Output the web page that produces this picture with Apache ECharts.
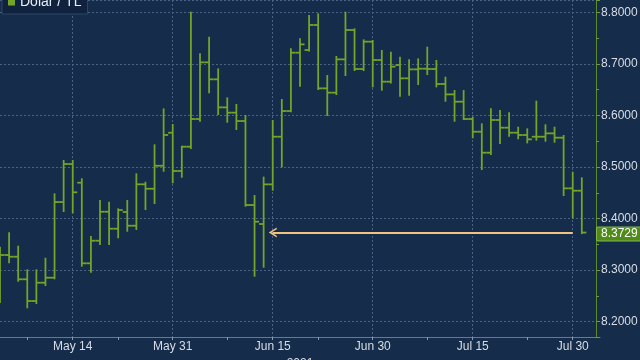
<!DOCTYPE html>
<html>
<head>
<meta charset="utf-8">
<script src="https://cdn.jsdelivr.net/npm/echarts@6/dist/echarts.min.js"></script>
<style>
html,body{margin:0;padding:0;background:#152c4b;}
#chart{width:640px;height:360px;}
</style>
</head>
<body>
<div id="chart"></div>
<script>
// Trading days (weekdays) shown on the category axis
const dates = [
 '2021-05-04','2021-05-05','2021-05-06','2021-05-07',
 '2021-05-10','2021-05-11','2021-05-12','2021-05-13','2021-05-14',
 '2021-05-17','2021-05-18','2021-05-19','2021-05-20','2021-05-21',
 '2021-05-24','2021-05-25','2021-05-26','2021-05-27','2021-05-28',
 '2021-05-31','2021-06-01','2021-06-02','2021-06-03','2021-06-04',
 '2021-06-07','2021-06-08','2021-06-09','2021-06-10','2021-06-11',
 '2021-06-14','2021-06-15','2021-06-16','2021-06-17','2021-06-18',
 '2021-06-21','2021-06-22','2021-06-23','2021-06-24','2021-06-25',
 '2021-06-28','2021-06-29','2021-06-30','2021-07-01','2021-07-02',
 '2021-07-05','2021-07-06','2021-07-07','2021-07-08','2021-07-09',
 '2021-07-12','2021-07-13','2021-07-14','2021-07-15','2021-07-16',
 '2021-07-19','2021-07-20','2021-07-21','2021-07-22','2021-07-23',
 '2021-07-26','2021-07-27','2021-07-28','2021-07-29','2021-07-30',
 '2021-08-02','2021-08-03','2021-08-04'
];
const open = [8.3350,8.3294,8.3261,8.2823,8.2402,8.2757,8.2854,8.4321,8.5058,8.4696,
 8.3133,8.3571,8.4133,8.3804,8.4128,8.3862,8.4665,8.4579,8.5025,8.5665,
 8.4923,8.5394,8.5931,8.7030,8.6701,8.6157,8.6054,8.5892,8.4263,8.3895,
 8.4664,8.5588,8.6086,8.7217,8.7269,8.7754,8.6526,8.6442,8.7088,8.7657,
 8.6901,8.7431,8.7075,8.6655,8.6978,8.6720,8.6894,8.6907,8.6901,8.6610,
 8.6409,8.6267,8.5931,8.5685,8.5278,8.5912,8.5763,8.5666,8.5621,8.5588,
 8.5588,8.5653,8.5569,8.4587,8.4541];
const high = [8.3455,8.3734,8.3474,8.3016,8.3016,8.3241,8.4490,8.5136,8.5136,8.4781,
 8.3662,8.4360,8.4327,8.4199,8.4360,8.4878,8.4715,8.5440,8.6138,8.5834,
 8.5413,8.8012,8.7205,8.7527,8.6913,8.6351,8.6222,8.6009,8.4457,8.4813,
 8.5912,8.6319,8.7301,8.7495,8.7948,8.7980,8.6784,8.7153,8.8012,8.7689,
 8.7476,8.7463,8.7269,8.7237,8.7140,8.7088,8.7107,8.7334,8.7075,8.6752,
 8.6493,8.6493,8.5976,8.5847,8.6138,8.6106,8.6060,8.5782,8.5750,8.6286,
 8.5828,8.5782,8.5621,8.4910,8.4800];
const low = [8.2363,8.3133,8.2776,8.2260,8.2344,8.2693,8.2823,8.4128,8.4102,8.3067,
 8.2950,8.3488,8.3488,8.3618,8.3746,8.3779,8.4166,8.4283,8.4909,8.4684,
 8.4793,8.5350,8.5880,8.6429,8.6009,8.5860,8.5718,8.4231,8.2874,8.3048,
 8.4541,8.4994,8.6060,8.6558,8.7240,8.6493,8.5989,8.6396,8.6765,8.6862,
 8.6862,8.6545,8.6480,8.6620,8.6364,8.6383,8.6590,8.6784,8.6545,8.6267,
 8.5879,8.5912,8.5556,8.4942,8.5233,8.5446,8.5588,8.5537,8.5459,8.5511,
 8.5491,8.5472,8.4438,8.4005,8.3700];
const close = [8.3294,8.3261,8.2823,8.2402,8.2757,8.2854,8.4321,8.5058,8.4510,8.3133,
 8.3571,8.4133,8.3804,8.4166,8.3862,8.4665,8.4579,8.5025,8.5621,8.4923,
 8.5394,8.5931,8.7030,8.6701,8.6157,8.6054,8.5892,8.4263,8.3940,8.4664,
 8.5588,8.6086,8.7217,8.7379,8.7754,8.6526,8.6442,8.7088,8.7657,8.6901,
 8.7431,8.7075,8.6655,8.6946,8.6720,8.6894,8.6907,8.6901,8.6610,8.6409,
 8.6267,8.5931,8.5685,8.5278,8.5912,8.5763,8.5666,8.5621,8.5537,8.5588,
 8.5653,8.5569,8.4587,8.4541,8.3729];

const xLabelDates = ['2021-05-14','2021-05-31','2021-06-15','2021-06-30','2021-07-15','2021-07-30'];
const xLabelText  = ['May 14','May 31','Jun 15','Jun 30','Jul 15','Jul 30'];
const minorTickDates = ['2021-05-07','2021-05-21','2021-06-08','2021-06-22','2021-07-08','2021-07-23'];
const yearLabel = '2021';
const seriesName = 'Dolar / TL';
const lastValue = 8.3729;
const arrowFrom = '2021-06-15';
const arrowTo = '2021-07-30';

const BAR = '#74a428';
const FONT = 'Liberation Sans, Arial, sans-serif';

const ohlc = open.map((o, i) => [i, o, high[i], low[i], close[i]]);

const chart = echarts.init(document.getElementById('chart'), null, {renderer: 'canvas'});
chart.setOption({
  backgroundColor: '#152c4b',
  animation: false,
  textStyle: {fontFamily: FONT},
  legend: {
    left: 2, top: -10,
    padding: [5, 6, 5, 6],
    backgroundColor: '#10223d',
    borderColor: '#2e4668', borderWidth: 1,
    itemWidth: 7, itemHeight: 7,
    icon: 'rect',
    textStyle: {color: '#e8ecf2', fontSize: 14, fontFamily: FONT},
    data: [seriesName]
  },
  grid: {left: 0, right: 40, top: 0, bottom: 23, containLabel: false, outerBoundsMode: 'none'},
  xAxis: {
    type: 'category',
    data: dates,
    boundaryGap: false,
    axisLine: {lineStyle: {color: '#66798f', width: 1}},
    axisTick: {
      show: true, length: 3,
      lineStyle: {color: '#8a99ad'},
      interval: (idx, v) => minorTickDates.includes(v) || xLabelDates.includes(v)
    },
    axisLabel: {
      color: '#d8dde5', fontSize: 12, margin: 4, fontFamily: FONT,
      interval: (idx, v) => xLabelDates.includes(v),
      formatter: v => { const k = xLabelDates.indexOf(v); return k >= 0 ? xLabelText[k] : ''; }
    },
    splitLine: {
      show: true,
      interval: (idx, v) => xLabelDates.includes(v),
      lineStyle: {color: '#4a6285', type: [2, 2], width: 1}
    },
    name: yearLabel,
    nameLocation: 'middle',
    nameGap: 14,
    nameTextStyle: {color: '#d8dde5', fontSize: 12, fontFamily: FONT}
  },
  yAxis: {
    type: 'value',
    position: 'right',
    offset: -4,
    min: 8.1704, max: 8.8239,
    axisLine: {show: true, lineStyle: {color: '#5f8a2a', width: 1}},
    axisTick: {show: true, length: 4, lineStyle: {color: '#6f9a35'}},
    minorTick: {show: true, splitNumber: 2, length: 3, lineStyle: {color: '#6f9a35'}},
    axisLabel: {
      color: '#d8dde5', fontSize: 12, margin: 5, fontFamily: FONT,
      showMinLabel: false, showMaxLabel: false,
      formatter: v => v.toFixed(4)
    },
    splitLine: {show: true, lineStyle: {color: '#4a6285', type: [2, 2], width: 1}}
  },
  series: [{
    name: seriesName,
    type: 'custom',
    itemStyle: {color: BAR},
    encode: {x: 0, y: [1, 2, 3, 4]},
    data: ohlc,
    renderItem: function (params, api) {
      const x = api.value(0);
      const o = api.coord([x, api.value(1)]);
      const h = api.coord([x, api.value(2)]);
      const l = api.coord([x, api.value(3)]);
      const c = api.coord([x, api.value(4)]);
      const w = api.size([1, 0])[0] * 0.5;
      const st = {stroke: BAR, lineWidth: 1.8};
      return {
        type: 'group',
        children: [
          {type: 'line', shape: {x1: h[0], y1: h[1], x2: l[0], y2: l[1]}, style: st},
          {type: 'line', shape: {x1: o[0] - w, y1: o[1], x2: o[0], y2: o[1]}, style: st},
          {type: 'line', shape: {x1: c[0], y1: c[1], x2: c[0] + w, y2: c[1]}, style: st}
        ]
      };
    },
    markLine: {
      silent: true,
      animation: false,
      data: [
        [
          {coord: [arrowFrom, lastValue], symbol: 'path://M0,10 L5,0 L10,10 L8.2,10 L5,3.6 L1.8,10 Z', symbolSize: [10, 8]},
          {coord: [arrowTo, lastValue], symbol: 'none'}
        ],
        {
          yAxis: lastValue,
          symbol: 'none',
          lineStyle: {color: 'rgba(0,0,0,0)', width: 1},
          label: {
            show: true, position: 'end', distance: -3,
            formatter: () => lastValue.toFixed(4),
            color: '#ffffff', fontSize: 12, fontFamily: FONT,
            backgroundColor: '#4f8a1b', borderColor: '#86b94a', borderWidth: 1,
            padding: [1, 4, 0, 4], borderRadius: 1
          }
        }
      ],
      lineStyle: {color: '#f3c27f', width: 2, type: 'solid'},
      label: {show: false}
    }
  }]
});
</script>
</body>
</html>
